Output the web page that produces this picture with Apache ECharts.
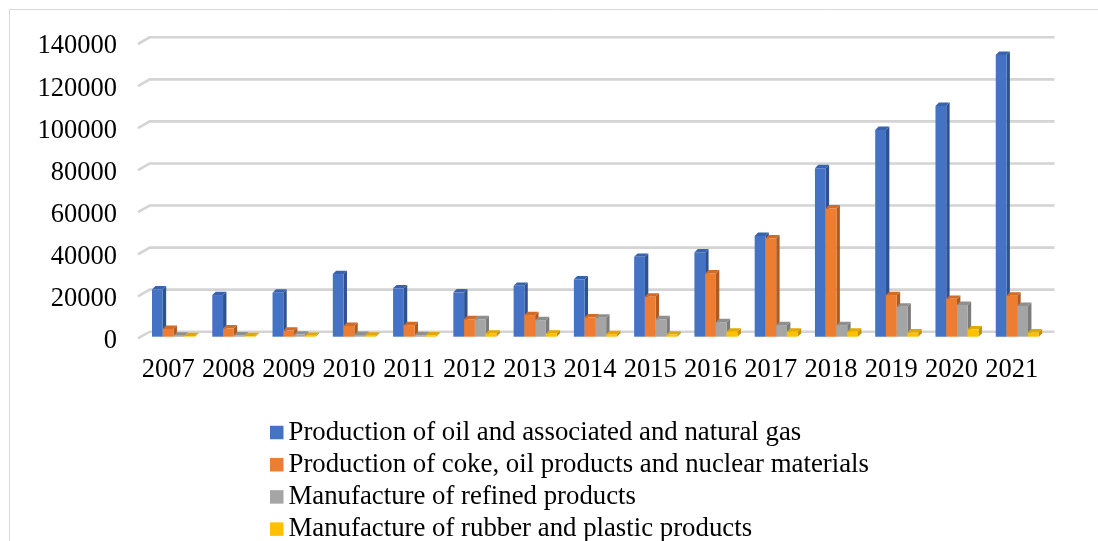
<!DOCTYPE html>
<html>
<head>
<meta charset="utf-8">
<script src="https://cdn.jsdelivr.net/npm/echarts@6/dist/echarts.min.js"></script>
<style>
html,body{margin:0;padding:0;background:#fff;}
#chart{width:1098px;height:541px;}
</style>
</head>
<body>
<div id="chart"></div>
<script>
const years = ['2007','2008','2009','2010','2011','2012','2013','2014','2015','2016','2017','2018','2019','2020','2021'];
const oilGas   = [22500, 19800, 20900, 29800, 23000, 21100, 24200, 27300, 38000, 40100, 47900, 80100, 98300, 109700, 134000];
const cokeOil  = [3700, 4000, 2900, 5100, 5500, 8300, 10300, 9200, 19000, 30100, 46800, 61000, 19800, 18000, 19500];
const refined  = [500, 600, 1000, 800, 700, 8300, 7900, 9000, 8300, 6900, 5500, 5500, 14300, 15100, 14600];
const rubber   = [300, 300, 400, 500, 600, 1500, 1500, 1200, 1000, 2400, 2400, 2400, 2000, 3500, 2000];
const yTicks   = [0, 20000, 40000, 60000, 80000, 100000, 120000, 140000];
const seriesNames = [
  'Production of oil and associated and natural gas',
  'Production of coke, oil products and nuclear materials',
  'Manufacture of refined products',
  'Manufacture of rubber and plastic products'
];
const seriesData = [oilGas, cokeOil, refined, rubber];
const colors = [
  {front:'#4472C4', side:'#2F528F', top:'#3A63AE'},
  {front:'#ED7D31', side:'#AE5A21', top:'#D06B28'},
  {front:'#A5A5A5', side:'#7B7B7B', top:'#8F8F8F'},
  {front:'#FFC000', side:'#BF9000', top:'#E0A800'}
];

const FONT = "'Liberation Serif', 'Times New Roman', serif";
const DEPTH = 3.4;          // bar 3D depth
const GRID_DX = 11.7, GRID_DY = 6.7;   // floor depth
const GROUP_DX = 5.4, GROUP_DY = 1.7;  // bars sit mid-depth

function barRenderer(k) {
  return function (params, api) {
    const idx = api.value(0);
    const val = api.value(1);
    const top = api.coord([idx, val]);
    const base = api.coord([idx, 0]);
    const band = api.size([1, 0])[0];
    const bw = band * 10.75 / 60.2;
    const x0 = base[0] + GROUP_DX + (k - 2) * bw;
    const y0 = base[1] - GROUP_DY;
    const yT = top[1] - GROUP_DY;
    const c = colors[k];
    const d = DEPTH;
    return {
      type: 'group',
      children: [
        {type:'polygon', shape:{points:[[x0+bw,yT],[x0+bw+d,yT-d],[x0+bw+d,y0-d],[x0+bw,y0]]}, style:{fill:c.side}},
        {type:'polygon', shape:{points:[[x0,yT],[x0+d,yT-d],[x0+bw+d,yT-d],[x0+bw,yT]]}, style:{fill:c.top}},
        {type:'rect', shape:{x:x0, y:yT, width:bw, height:Math.max(0,y0-yT)}, style:{fill:c.front}}
      ]
    };
  };
}

const series = [{
  type: 'custom',
  name: 'gridlines',
  silent: true,
  z: 1,
  data: yTicks.map(v => [0, v]),
  renderItem: function (params, api) {
    const cs = params.coordSys;
    const y = api.coord([0, api.value(1)])[1];
    return {
      type: 'polyline',
      shape: {points: [[cs.x, y], [cs.x + GRID_DX, y - GRID_DY], [cs.x + cs.width + 12.5, y - GRID_DY]]},
      style: {stroke: '#D4D4D4', lineWidth: 2.6, fill: null}
    };
  }
}];
seriesNames.forEach((name, k) => {
  series.push({
    type: 'custom',
    name: name,
    z: 2 + k,
    itemStyle: {color: colors[k].front},
    data: seriesData[k].map((v, i) => [i, v]),
    renderItem: barRenderer(k)
  });
});

const chart = echarts.init(document.getElementById('chart'), null, {renderer: 'canvas'});
chart.setOption({
  animation: false,
  backgroundColor: '#fff',
  graphic: [{
    type: 'rect', silent: true,
    shape: {x: 9.5, y: 9.5, width: 1200, height: 700},
    style: {fill: null, stroke: '#D9D9D9', lineWidth: 1}
  }],
  grid: {left: 138, top: 44, width: 904, height: 294.4, containLabel: false},
  xAxis: {
    type: 'category',
    data: years,
    axisLine: {show: false},
    axisTick: {show: false},
    axisLabel: {
      interval: 0, hideOverlap: false, margin: 18,
      color: '#000', fontFamily: FONT, fontSize: 26.5
    }
  },
  yAxis: {
    type: 'value',
    min: 0, max: 140000, interval: 20000,
    axisLine: {show: false},
    axisTick: {show: false},
    splitLine: {show: false},
    axisLabel: {
      margin: 21,
      formatter: v => '{v|' + v + '}',
      rich: {v: {padding: [5, 0, 0, 0], color: '#000', fontFamily: FONT, fontSize: 26.5}},
      color: '#000', fontFamily: FONT, fontSize: 26.5
    }
  },
  legend: {
    data: seriesNames,
    orient: 'vertical',
    left: 270, top: 419, height: 300, padding: 0,
    itemWidth: 13.5, itemHeight: 13.5, itemGap: 5.2,
    icon: 'rect',
    textStyle: {color: '#000', fontFamily: FONT, fontSize: 26.8, lineHeight: 27},
    selectedMode: false
  },
  series: series
});
</script>
</body>
</html>
